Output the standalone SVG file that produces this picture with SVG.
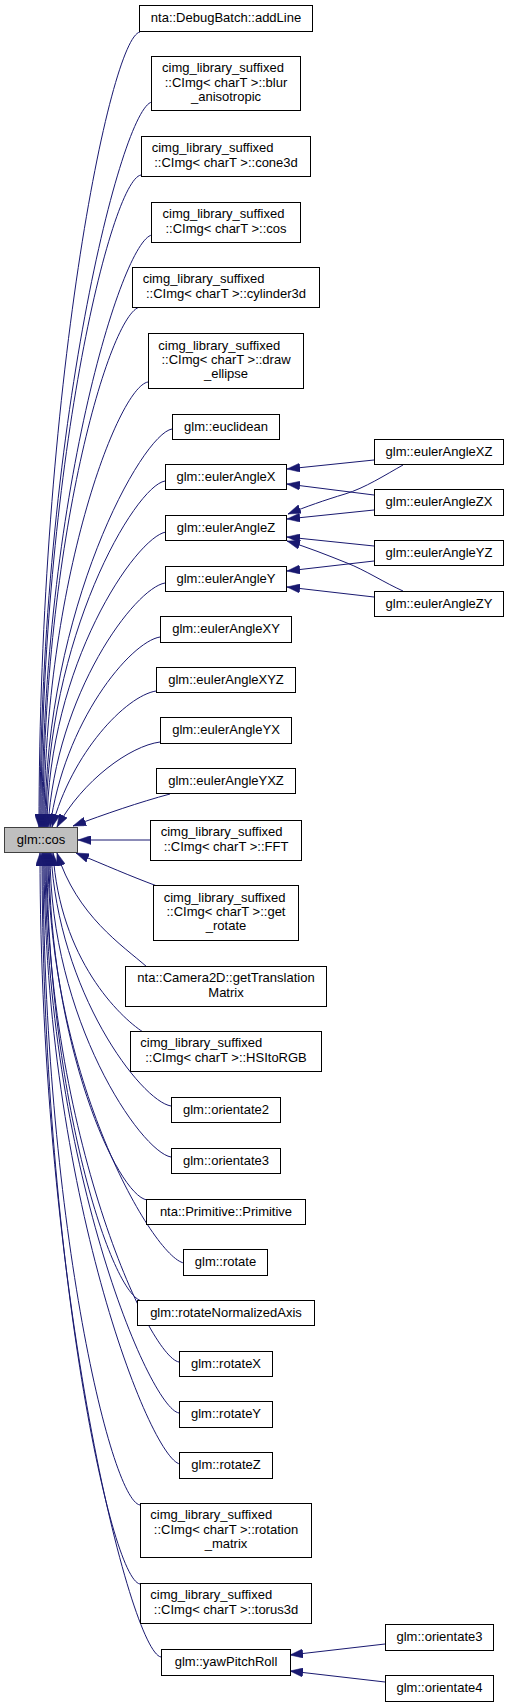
<svg xmlns="http://www.w3.org/2000/svg" width="509" height="1707" viewBox="0 0 509 1707">
<style>
.n rect{fill:#ffffff;stroke:#000000;stroke-width:1}
.n.hl rect{fill:#bfbfbf;stroke:#404040}
.n text{font-family:"Liberation Sans",Arial,Helvetica,sans-serif;font-size:13px;fill:#000000}
.c{text-anchor:middle}
.e path{fill:none;stroke:#191970;stroke-width:1;marker-end:url(#ah)}
</style>
<defs>
<marker id="ah" viewBox="0 0 13 9" refX="13" refY="4.5" markerWidth="13" markerHeight="9" markerUnits="userSpaceOnUse" orient="auto">
<path d="M0,0 L13,4.5 L0,9 z" fill="#191970" stroke="#191970" stroke-width="0.5"/>
</marker>
</defs>
<rect width="509" height="1707" fill="#ffffff"/>
<g id="edges" class="e">
<path d="M140,32 C110,37 39,390 39,827"/>
<path d="M152,102 C122,107 40,428 40,827"/>
<path d="M141,175 C111,180 41,468 41,827"/>
<path d="M152,235 C122,240 42,501 42,827"/>
<path d="M140,307 C110,312 43,541 43,827"/>
<path d="M148,382 C118,387 44,582 44,827"/>
<path d="M172,429 C142,434 45,608 45,827"/>
<path d="M165,481 C135,486 46,637 46,827"/>
<path d="M166,532 C136,537 48,665 47,827"/>
<path d="M165,583 C135,588 56,693 48,827"/>
<path d="M160,637 C130,642 64,722 50,827"/>
<path d="M156,691 C126,696 72,752 52,827"/>
<path d="M160,742 C130,746 83,780 57,827"/>
<path d="M170,794 C140,802 105,814 73,826"/>
<path d="M150,840 L78,840"/>
<path d="M157,886 C130,876 105,865 76,853"/>
<path d="M147,967 C122,945 77,916 57,853"/>
<path d="M143,1032 C120,1017 60,960 53,853"/>
<path d="M171,1106 C141,1101 58,992 51,853"/>
<path d="M171,1157 C141,1152 50,1020 50,853"/>
<path d="M147,1200 C117,1195 49,1044 49,853"/>
<path d="M184,1263 C154,1258 48,1079 48,853"/>
<path d="M142,1301 C112,1296 47,1099 47,853"/>
<path d="M179,1362 C149,1357 46,1133 46,853"/>
<path d="M179,1413 C149,1408 45,1161 45,853"/>
<path d="M180,1464 C150,1459 44,1189 44,853"/>
<path d="M140,1505 C110,1500 43,1212 43,853"/>
<path d="M140,1584 C110,1579 42,1255 42,853"/>
<path d="M161,1657 C131,1652 40,1295 40,853"/>
<path d="M374,460 L287,469"/>
<path d="M374,495 L287,484"/>
<path d="M403,465 C385,475 365,488 345,494 C325,500 305,507 288,514"/>
<path d="M374,510 L287,519"/>
<path d="M374,546 L287,537"/>
<path d="M403,591 C385,583 365,570 347,563 C327,555 307,547 287,541"/>
<path d="M374,561 L287,571"/>
<path d="M374,597 L287,587"/>
<path d="M385,1644 L290,1655"/>
<path d="M385,1682 L290,1671"/>
</g>
<g id="node_cos" class="n hl"><rect x="4.5" y="827.5" width="73" height="25"/><text class="c" x="41" y="843.5">glm::cos</text></g>
<g id="node_addLine" class="n"><rect x="139.5" y="5.5" width="173" height="26"/><text class="c" x="226" y="21.5">nta::DebugBatch::addLine</text></g>
<g id="node_blur" class="n"><rect x="151.5" y="56.5" width="149" height="54"/><text x="162" y="72.2">cimg_library_suffixed</text><text class="c" x="226" y="86.5">::CImg&lt; charT &gt;::blur</text><text class="c" x="226" y="100.8">_anisotropic</text></g>
<g id="node_cone3d" class="n"><rect x="141.5" y="136.5" width="169" height="40"/><text x="151.7" y="152.4">cimg_library_suffixed</text><text class="c" x="226" y="166.7">::CImg&lt; charT &gt;::cone3d</text></g>
<g id="node_cimgcos" class="n"><rect x="151.5" y="202.5" width="149" height="40"/><text x="162.5" y="218.4">cimg_library_suffixed</text><text class="c" x="226" y="232.7">::CImg&lt; charT &gt;::cos</text></g>
<g id="node_cylinder3d" class="n"><rect x="132.5" y="267.5" width="187" height="40"/><text x="142.7" y="283.4">cimg_library_suffixed</text><text class="c" x="226" y="297.7">::CImg&lt; charT &gt;::cylinder3d</text></g>
<g id="node_draw_ellipse" class="n"><rect x="148.5" y="333.5" width="155" height="55"/><text x="158.3" y="349.7">cimg_library_suffixed</text><text class="c" x="226" y="364">::CImg&lt; charT &gt;::draw</text><text class="c" x="226" y="378.3">_ellipse</text></g>
<g id="node_euclidean" class="n"><rect x="172.5" y="414.5" width="107" height="25"/><text class="c" x="226" y="430.5">glm::euclidean</text></g>
<g id="node_eulerAngleXZ" class="n"><rect x="374.5" y="439.5" width="129" height="25"/><text class="c" x="439" y="455.5">glm::eulerAngleXZ</text></g>
<g id="node_eulerAngleX" class="n"><rect x="165.5" y="464.5" width="121" height="25"/><text class="c" x="226" y="480.5">glm::eulerAngleX</text></g>
<g id="node_eulerAngleZX" class="n"><rect x="374.5" y="489.5" width="129" height="26"/><text class="c" x="439" y="506">glm::eulerAngleZX</text></g>
<g id="node_eulerAngleZ" class="n"><rect x="165.5" y="515.5" width="121" height="25"/><text class="c" x="226" y="531.5">glm::eulerAngleZ</text></g>
<g id="node_eulerAngleYZ" class="n"><rect x="374.5" y="540.5" width="129" height="25"/><text class="c" x="439" y="556.5">glm::eulerAngleYZ</text></g>
<g id="node_eulerAngleY" class="n"><rect x="165.5" y="566.5" width="121" height="25"/><text class="c" x="226" y="582.5">glm::eulerAngleY</text></g>
<g id="node_eulerAngleZY" class="n"><rect x="374.5" y="591.5" width="129" height="25"/><text class="c" x="439" y="607.5">glm::eulerAngleZY</text></g>
<g id="node_eulerAngleXY" class="n"><rect x="160.5" y="616.5" width="131" height="26"/><text class="c" x="226" y="633">glm::eulerAngleXY</text></g>
<g id="node_eulerAngleXYZ" class="n"><rect x="156.5" y="667.5" width="139" height="25"/><text class="c" x="226" y="683.5">glm::eulerAngleXYZ</text></g>
<g id="node_eulerAngleYX" class="n"><rect x="160.5" y="717.5" width="131" height="26"/><text class="c" x="226" y="734">glm::eulerAngleYX</text></g>
<g id="node_eulerAngleYXZ" class="n"><rect x="156.5" y="768.5" width="139" height="25"/><text class="c" x="226" y="784.5">glm::eulerAngleYXZ</text></g>
<g id="node_FFT" class="n"><rect x="150.5" y="820.5" width="151" height="40"/><text x="160.7" y="836.4">cimg_library_suffixed</text><text class="c" x="226" y="850.7">::CImg&lt; charT &gt;::FFT</text></g>
<g id="node_get_rotate" class="n"><rect x="153.5" y="885.5" width="145" height="55"/><text x="163.7" y="901.7">cimg_library_suffixed</text><text class="c" x="226" y="916">::CImg&lt; charT &gt;::get</text><text class="c" x="226" y="930.3">_rotate</text></g>
<g id="node_getTranslationMatrix" class="n"><rect x="125.5" y="966.5" width="201" height="40"/><text class="c" x="226" y="982.4">nta::Camera2D::getTranslation</text><text class="c" x="226" y="996.7">Matrix</text></g>
<g id="node_HSItoRGB" class="n"><rect x="130.5" y="1031.5" width="191" height="40"/><text x="140.3" y="1047.4">cimg_library_suffixed</text><text class="c" x="226" y="1061.7">::CImg&lt; charT &gt;::HSItoRGB</text></g>
<g id="node_orientate2" class="n"><rect x="171.5" y="1097.5" width="109" height="25"/><text class="c" x="226" y="1113.5">glm::orientate2</text></g>
<g id="node_orientate3" class="n"><rect x="171.5" y="1148.5" width="109" height="25"/><text class="c" x="226" y="1164.5">glm::orientate3</text></g>
<g id="node_Primitive" class="n"><rect x="146.5" y="1199.5" width="159" height="25"/><text class="c" x="226" y="1215.5">nta::Primitive::Primitive</text></g>
<g id="node_rotate" class="n"><rect x="183.5" y="1249.5" width="84" height="26"/><text class="c" x="225.5" y="1266">glm::rotate</text></g>
<g id="node_rotateNormalizedAxis" class="n"><rect x="137.5" y="1300.5" width="177" height="25"/><text class="c" x="226" y="1316.5">glm::rotateNormalizedAxis</text></g>
<g id="node_rotateX" class="n"><rect x="179.5" y="1351.5" width="93" height="25"/><text class="c" x="226" y="1367.5">glm::rotateX</text></g>
<g id="node_rotateY" class="n"><rect x="179.5" y="1401.5" width="93" height="26"/><text class="c" x="226" y="1418">glm::rotateY</text></g>
<g id="node_rotateZ" class="n"><rect x="179.5" y="1452.5" width="93" height="26"/><text class="c" x="226" y="1469">glm::rotateZ</text></g>
<g id="node_rotation_matrix" class="n"><rect x="140.5" y="1503.5" width="171" height="54"/><text x="150.3" y="1519.2">cimg_library_suffixed</text><text class="c" x="226" y="1533.5">::CImg&lt; charT &gt;::rotation</text><text class="c" x="226" y="1547.8">_matrix</text></g>
<g id="node_torus3d" class="n"><rect x="140.5" y="1583.5" width="171" height="40"/><text x="150.3" y="1599.4">cimg_library_suffixed</text><text class="c" x="226" y="1613.7">::CImg&lt; charT &gt;::torus3d</text></g>
<g id="node_yawPitchRoll" class="n"><rect x="161.5" y="1649.5" width="129" height="26"/><text class="c" x="226" y="1666">glm::yawPitchRoll</text></g>
<g id="node_orientate3b" class="n"><rect x="385.5" y="1624.5" width="108" height="26"/><text class="c" x="439.5" y="1641">glm::orientate3</text></g>
<g id="node_orientate4" class="n"><rect x="385.5" y="1675.5" width="108" height="26"/><text class="c" x="439.5" y="1692">glm::orientate4</text></g>
</svg>
